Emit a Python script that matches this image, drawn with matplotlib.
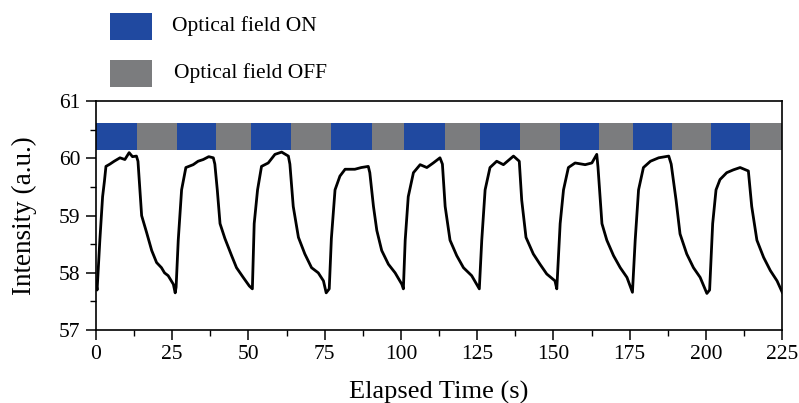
import matplotlib
matplotlib.use("Agg")
import matplotlib.pyplot as plt
from matplotlib.patches import Rectangle
from matplotlib.ticker import MultipleLocator

plt.rcParams['font.family'] = ['Liberation Serif', 'DejaVu Serif']

# Intensity trace (time in s, intensity in a.u.)
time_s = [
    0.0, 0.4, 1.3, 2.2, 2.8, 3.3, 4.6, 6.0, 7.9, 9.5, 10.9, 12.0, 13.3, 13.8, 14.2, 15.0, 16.6, 18.3,
    19.9, 21.5, 22.5, 23.7, 25.4, 26.0,
    26.3, 27.0, 28.1, 29.5, 31.9, 33.5, 35.2, 37.0, 38.5, 39.0, 39.8, 40.7, 42.3, 44.5, 46.1, 48.3,
    50.3, 51.3,
    51.9, 53.0, 54.3, 56.5, 58.7, 60.9, 63.1, 63.6, 64.7, 66.4, 68.5, 70.7, 72.9, 74.6, 75.5, 76.5,
    77.2, 78.4, 80.0, 81.7, 84.9, 87.0, 89.3, 89.8, 91.0, 92.1, 93.7, 95.9, 98.1, 100.3, 100.8,
    101.4, 102.4, 104.1, 106.3, 108.5, 110.6, 112.8, 113.6, 114.5, 116.1, 118.3, 120.5, 123.2, 125.7,
    126.5, 127.6, 129.2, 131.4, 133.6, 136.9, 138.8, 139.6, 141.0, 143.4, 145.6, 147.8, 150.5, 151.1,
    152.2, 153.3, 154.9, 157.1, 160.4, 162.6, 164.2, 164.6, 165.9, 167.5, 169.7, 171.9, 174.1, 175.9,
    176.8, 177.9, 179.5, 181.8, 184.5, 187.8, 188.6, 190.2, 191.5, 193.7, 195.9, 198.1, 200.3, 201.2,
    202.2, 203.3, 204.6, 206.8, 209.0, 211.2, 213.9, 215.0, 216.7, 218.9, 221.1, 223.3, 225.0,
]
intensity = [
    57.85, 57.70, 58.57, 59.33, 59.60, 59.86, 59.90, 59.95, 60.01, 59.98, 60.10, 60.03, 60.04, 59.95,
    59.63, 59.00, 58.71, 58.39, 58.18, 58.09, 58.00, 57.95, 57.80, 57.65,
    57.75, 58.57, 59.45, 59.84, 59.89, 59.95, 59.98, 60.03, 60.01, 59.90, 59.45, 58.86, 58.60, 58.30,
    58.09, 57.92, 57.77, 57.72,
    58.86, 59.45, 59.86, 59.92, 60.07, 60.11, 60.04, 59.90, 59.16, 58.62, 58.33, 58.09, 58.00, 57.86,
    57.65, 57.72,
    58.60, 59.45, 59.69, 59.81, 59.81, 59.84, 59.86, 59.75, 59.16, 58.74, 58.39, 58.15, 58.00, 57.80,
    57.72,
    58.57, 59.33, 59.75, 59.89, 59.84, 59.92, 60.01, 59.90, 59.16, 58.57, 58.30, 58.09, 57.95, 57.72,
    58.57, 59.45, 59.84, 59.95, 59.89, 60.04, 59.95, 59.27, 58.62, 58.33, 58.15, 57.98, 57.86, 57.72,
    58.86, 59.45, 59.84, 59.92, 59.89, 59.92, 60.07, 59.85, 58.86, 58.57, 58.30, 58.09, 57.92, 57.66,
    58.57, 59.45, 59.84, 59.95, 60.01, 60.04, 59.90, 59.27, 58.68, 58.33, 58.09, 57.92, 57.64, 57.70,
    58.86, 59.45, 59.63, 59.75, 59.80, 59.84, 59.78, 59.16, 58.57, 58.27, 58.04, 57.86, 57.66,
]

# Optical field ON windows (start, end) in s
on_start = [0.0, 26.5, 51.0, 77.0, 101.0, 126.0, 152.0, 176.0, 201.5]
on_end = [13.5, 39.5, 64.0, 90.5, 114.5, 139.0, 165.0, 189.0, 214.5]

legend_labels = ["Optical field ON", "Optical field OFF"]
blue = "#2049a0"
gray = "#7b7c7e"

fig = plt.figure(figsize=(7.99, 4.03), dpi=100)
ax = fig.add_axes([0.120, 0.181, 0.859, 0.568])

# status bar: gray background strip, blue ON blocks on top
bar_lo, bar_h = 60.15, 0.47
ax.broken_barh([(0, 225)], (bar_lo, bar_h), facecolors=gray, zorder=1)
ax.broken_barh([(s, e - s) for s, e in zip(on_start, on_end)], (bar_lo, bar_h),
               facecolors=blue, zorder=2)

ax.plot(time_s, intensity, color="black", lw=2.0, zorder=3)

ax.set_xlim(0, 225)
ax.set_ylim(57, 61)
ax.xaxis.set_major_locator(MultipleLocator(25))
ax.xaxis.set_minor_locator(MultipleLocator(12.5))
ax.yaxis.set_major_locator(MultipleLocator(1))
ax.yaxis.set_minor_locator(MultipleLocator(0.5))
ax.tick_params(which="major", direction="out", length=7, width=1.1, labelsize=15.5, pad=4)
ax.tick_params(which="minor", direction="out", length=4, width=1.0)
for sp in ax.spines.values():
    sp.set_linewidth(1.2)

ax.set_xlabel("Elapsed Time (s)", fontsize=19, labelpad=12)
ax.set_ylabel("Intensity (a.u.)", fontsize=19.5, labelpad=16)

# legend drawn by hand in figure coords
fig.add_artist(Rectangle((0.138, 0.901), 0.052, 0.067, transform=fig.transFigure,
                         facecolor=blue, edgecolor="none"))
fig.add_artist(Rectangle((0.138, 0.784), 0.052, 0.067, transform=fig.transFigure,
                         facecolor=gray, edgecolor="none"))
fig.text(0.215, 0.935, legend_labels[0], fontsize=15.5, va="center", ha="left")
fig.text(0.218, 0.818, legend_labels[1], fontsize=15.5, va="center", ha="left")

fig.savefig("out.png", dpi=100)
